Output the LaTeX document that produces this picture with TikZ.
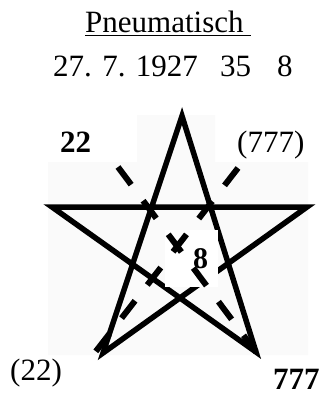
\documentclass[tikz,border=0pt]{standalone}
\usepackage{fontspec}
\setmainfont{Liberation Serif}
\usepackage{tikz}

\begin{document}
\begin{tikzpicture}[
  x=1pt, y=-1pt,
  etiquette/.style = {inner sep=0pt, anchor=base west, font=\fontsize{31}{31}\selectfont},
  gras/.style      = {etiquette, font=\fontsize{31}{31}\selectfont\bfseries},
  trait/.style     = {line width=5.5pt, line join=miter},
  tirets/.style    = {line width=6pt, dash pattern=on 22pt off 20pt}
]
\useasboundingbox (0,0) rectangle (326,396);
% fond de l'image
\fill[black!2] (48,162) -- (137,162) -- (137,115) -- (215,115) -- (215,162)
  -- (308,162) -- (308,355) -- (48,355) -- cycle;
% en-tete
\node[etiquette] (titre) at (85,33) {\underline{Pneumatisch\ }};
\node[etiquette] (date)  at (53,76) {27. 7. 1927};
\node[etiquette] (nombre) at (220,76) {35};
\node[etiquette] (huit) at (277,76) {8};
% etoile
\coordinate (haut)   at (182,116);
\coordinate (gauche) at (52,207);
\coordinate (droite) at (307,207);
\coordinate (bg)     at (103,353);
\coordinate (bd)     at (256,352);
\draw[trait] (haut) -- (bd) -- (gauche) -- (droite) -- (bg) -- cycle;
% centre
\node[fill=white, inner xsep=10pt, inner ysep=0pt, text width=33pt, align=right,
      minimum height=57pt, font=\fontsize{30}{30}\selectfont\bfseries]
  (centre) at (191.5,258.5) {8};
% diagonales
\coordinate (d1) at (118,167);
\coordinate (d2) at (238,168);
\coordinate (f2) at (93,355);
\draw[tirets] (d1) -- (bd);
\draw[tirets] (d2) -- (f2);
% nombres autour
\node[gras]      (a) at (60,152)  {22};
\node[etiquette] (b) at (237,152) {(777)};
\node[etiquette] (c) at (10,380)  {(22)};
\node[gras]      (d) at (273,389) {777};
\end{tikzpicture}
\end{document}
